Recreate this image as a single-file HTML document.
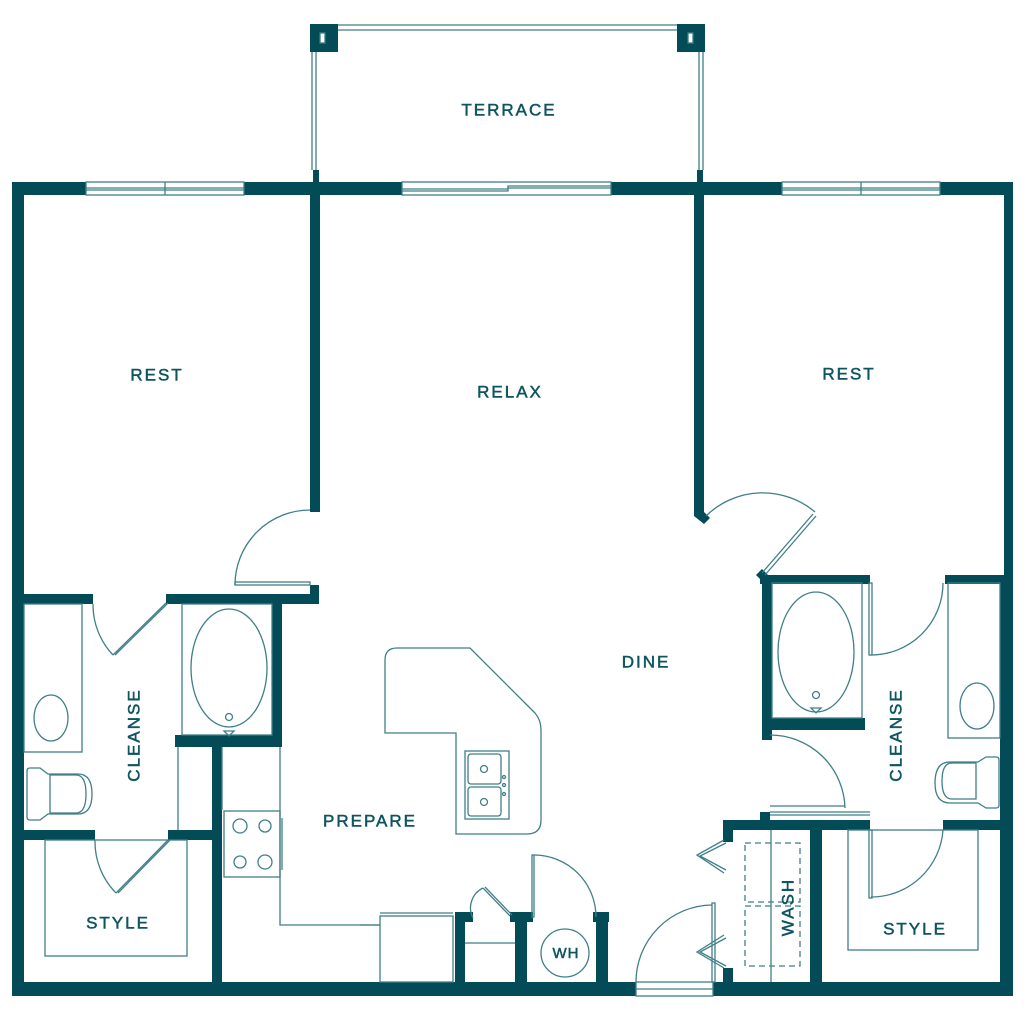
<!DOCTYPE html>
<html><head><style>
html,body{margin:0;padding:0;background:#fff;}
svg{display:block}
text{font-family:"Liberation Sans",sans-serif;fill:#0d5560;stroke:#0d5560;stroke-width:0.5;font-size:17px;letter-spacing:2px;text-anchor:middle;dominant-baseline:middle}
</style></head><body>
<svg width="1024" height="1024" viewBox="0 0 1024 1024" xmlns="http://www.w3.org/2000/svg">
<g fill="#024b57">
<rect x="12" y="182" width="74" height="13"/>
<rect x="244" y="182" width="158" height="13"/>
<rect x="611" y="182" width="171" height="13"/>
<rect x="940" y="182" width="73" height="13"/>
<rect x="12" y="182" width="12" height="814"/>
<rect x="1004" y="182" width="9" height="814"/>
<rect x="1000" y="575" width="13" height="421"/>
<rect x="12" y="982" width="624" height="14"/>
<rect x="713" y="982" width="300" height="14"/>
<rect x="310" y="24" width="28" height="28"/>
<rect x="677" y="24" width="28" height="28"/>
<rect x="313" y="170" width="6" height="12"/>
<rect x="697" y="170" width="6" height="12"/>
<rect x="310" y="182" width="10" height="330"/>
<rect x="694" y="182" width="10" height="333"/>
<polygon points="694,512 704,512 710,518 704,524 694,516"/>
<rect x="12" y="594" width="81" height="10"/>
<rect x="166" y="594" width="152" height="10"/>
<rect x="310" y="585" width="9" height="19"/>
<rect x="272" y="594" width="10" height="153"/>
<rect x="175" y="735" width="107" height="12"/>
<rect x="212" y="735" width="10" height="261"/>
<rect x="12" y="830" width="83" height="10"/>
<rect x="168" y="830" width="54" height="10"/>
<rect x="455" y="912" width="10" height="70"/>
<rect x="455" y="912" width="18" height="10"/>
<rect x="515" y="912" width="12" height="70"/>
<rect x="510" y="912" width="23" height="10"/>
<rect x="596" y="912" width="12" height="70"/>
<rect x="593" y="912" width="16" height="10"/>
<rect x="723" y="820" width="147" height="10"/>
<rect x="760" y="812" width="10" height="18"/>
<rect x="723" y="820" width="10" height="22"/>
<rect x="723" y="968" width="10" height="14"/>
<rect x="810" y="825" width="12" height="171"/>
<rect x="760" y="575" width="110" height="9"/>
<rect x="762" y="575" width="10" height="165"/>
<rect x="762" y="718" width="103" height="12"/>
<polygon points="756,575 762,569 768,575 762,581"/>
<rect x="945" y="575" width="68" height="9"/>
<rect x="943" y="820" width="70" height="10"/>
</g>
<g fill="none" stroke="#3f7f88" stroke-width="1.3">
<rect x="86" y="182" width="158" height="13"/><line x1="86" y1="188" x2="244" y2="188"/><line x1="86" y1="190" x2="244" y2="190"/><line x1="165" y1="182" x2="165" y2="195"/>
<rect x="782" y="182" width="158" height="13"/><line x1="782" y1="188" x2="940" y2="188"/><line x1="782" y1="190" x2="940" y2="190"/><line x1="861" y1="182" x2="861" y2="195"/>
<rect x="402" y="182" width="209" height="13"/><polyline points="402,189 508,189 508,186 611,186"/><polyline points="402,191 508,191 508,188 611,188"/>
<rect x="320" y="33" width="5" height="10" fill="#fff"/><rect x="688" y="33" width="5" height="10" fill="#fff"/>
<line x1="338" y1="25" x2="677" y2="25"/><line x1="338" y1="30" x2="677" y2="30"/>
<line x1="312" y1="52" x2="312" y2="170"/><line x1="316" y1="52" x2="316" y2="170"/>
<line x1="699" y1="52" x2="699" y2="170"/><line x1="703" y1="52" x2="703" y2="170"/>
<path d="M310,510 A75,75 0 0 0 235,585"/><rect x="235" y="582" width="75" height="3"/>
<path d="M93,604 A73,73 0 0 0 113,655"/><line x1="113" y1="655" x2="166" y2="603"/><line x1="115" y1="655" x2="168" y2="603"/>
<path d="M95,840 A73,73 0 0 0 116,893"/><line x1="116" y1="893" x2="168" y2="840"/><line x1="118" y1="893" x2="170" y2="840"/>
<rect x="24" y="604" width="58" height="148"/>
<ellipse cx="51" cy="718" rx="17" ry="23"/>
<path d="M30,768 h10 l8,6 h30 q14,0 14,20 q0,20 -14,20 h-30 l-8,6 h-10 q-3,0 -3,-3 v-46 q0,-3 3,-3z"/>
<path d="M50,775 h26 q10,0 10,19 q0,19 -10,19 h-26z"/>
<rect x="182" y="604" width="90" height="131"/>
<ellipse cx="229" cy="668" rx="38" ry="59"/>
<circle cx="229" cy="717" r="3.5"/><path d="M224,731 h10 l-5,5z"/>
<line x1="178" y1="747" x2="178" y2="830"/>
<rect x="45" y="840" width="142" height="116"/>
<polyline points="222,747 222,810"/>
<polyline points="280,747 280,925 380,925"/>
<rect x="224" y="811" width="56" height="66"/>
<circle cx="240" cy="826" r="7"/><circle cx="265" cy="826" r="6"/><circle cx="240" cy="862" r="6"/><circle cx="265" cy="862" r="7"/>
<line x1="282" y1="818" x2="282" y2="870"/>
<rect x="380" y="916" width="73" height="66"/><line x1="380" y1="913" x2="453" y2="913"/>
<line x1="360" y1="925" x2="380" y2="925"/>
<line x1="465" y1="943" x2="515" y2="943"/>
<path d="M473,918 A22,22 0 0 1 483,888"/><line x1="483" y1="888" x2="510" y2="916"/><line x1="485" y1="887" x2="512" y2="915"/>
<rect x="532" y="855" width="2" height="62"/><path d="M534,855 A62,62 0 0 1 596,917"/>
<circle cx="565" cy="953" r="24"/>
<path d="M397,648 L470,648 L535,713 Q541,720 541,730 L541,820 Q541,834 527,834 L456,834 L456,733 L385,733 L385,660 Q385,648 397,648Z"/>
<rect x="465" y="751" width="44" height="68"/>
<rect x="468" y="754" width="33" height="30" rx="3"/><rect x="468" y="787" width="33" height="29" rx="3"/>
<circle cx="484" cy="769" r="3.5"/><circle cx="484" cy="802" r="3.5"/>
<circle cx="504" cy="777" r="1.5"/><circle cx="504" cy="785" r="1.5"/><circle cx="504" cy="794" r="1.5"/>
<rect x="636" y="982" width="77" height="14"/><line x1="636" y1="989" x2="713" y2="989"/>
<rect x="712" y="903" width="3" height="79"/><path d="M712,905 A77,77 0 0 0 636,982"/>
<polyline points="724,840 697,855 724,873"/><polyline points="726,843 700,856 726,870"/>
<polyline points="724,935 697,952 724,968"/><polyline points="726,938 700,952 726,966"/>
<line x1="771" y1="830" x2="771" y2="982"/>
<rect x="745" y="843" width="55" height="59" stroke-dasharray="6,4"/>
<rect x="745" y="906" width="55" height="60" stroke-dasharray="6,4"/>
<line x1="770" y1="812" x2="870" y2="812"/><line x1="770" y1="815" x2="870" y2="815"/>
<path d="M706,516 A81,81 0 0 1 815,512"/><line x1="762" y1="573" x2="813" y2="514"/><line x1="765" y1="575" x2="816" y2="516"/>
<path d="M770,735 A75,75 0 0 1 845,808"/><line x1="770" y1="806" x2="845" y2="806"/>
<rect x="869" y="583" width="3" height="72"/><path d="M871,655 A72,72 0 0 0 943,583"/>
<rect x="869" y="830" width="3" height="68"/><path d="M871,897 A72,72 0 0 0 943,830"/>
<rect x="772" y="583" width="90" height="135"/>
<ellipse cx="816" cy="652" rx="38" ry="60"/>
<circle cx="816" cy="695" r="3.5"/><path d="M811,708 h10 l-5,5z"/>
<rect x="948" y="583" width="52" height="155"/>
<ellipse cx="977" cy="706" rx="17" ry="23"/>
<path d="M996,757 h-10 l-8,5 h-28 q-15,0 -15,21 q0,20 15,20 h28 l8,5 h10 q3,0 3,-3 v-45 q0,-3 -3,-3z"/>
<path d="M976,763 h-24 q-10,0 -10,18 q0,18 10,18 h24z"/>
<rect x="848" y="830" width="130" height="120"/>
</g>
<text x="509" y="111">TERRACE</text>
<text x="510" y="393">RELAX</text>
<text x="157" y="376">REST</text>
<text x="849" y="375">REST</text>
<text x="646" y="663">DINE</text>
<text x="370" y="822">PREPARE</text>
<text x="118" y="924">STYLE</text>
<text x="915" y="930">STYLE</text>
<text x="566" y="954" style="font-size:15px;letter-spacing:1px">WH</text>
<text transform="translate(135,735) rotate(-90)">CLEANSE</text>
<text transform="translate(897,735) rotate(-90)">CLEANSE</text>
<text transform="translate(789,907) rotate(-90)">WASH</text>
</svg>
</body></html>
